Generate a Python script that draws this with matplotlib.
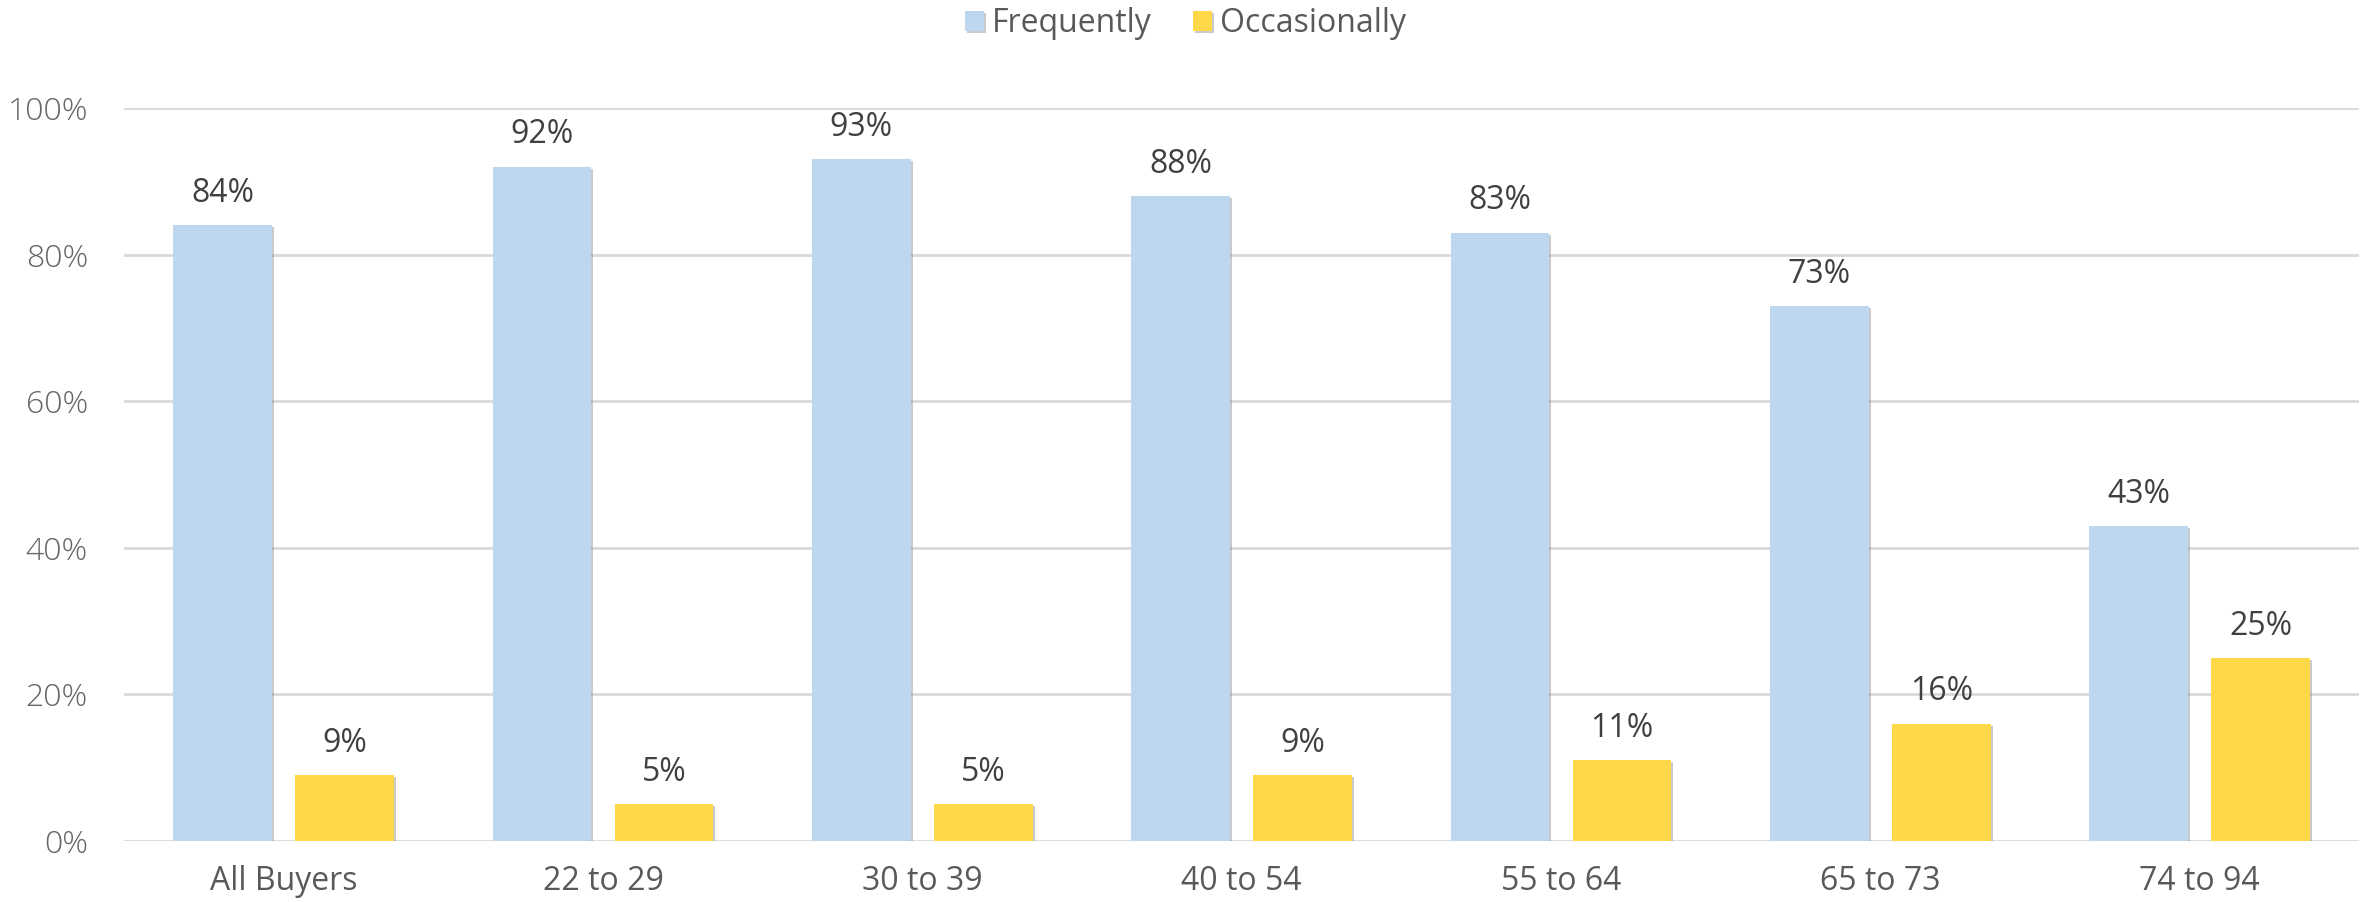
import numpy as np
import matplotlib.pyplot as plt
import matplotlib.patheffects as pe

categories = ['All Buyers', '22 to 29', '30 to 39', '40 to 54', '55 to 64', '65 to 73', '74 to 94']
frequently = [84, 92, 93, 88, 83, 73, 43]
occasionally = [9, 5, 5, 9, 11, 16, 25]
yticks = [0, 20, 40, 60, 80, 100]

plt.rcParams['font.family'] = ['Open Sans', 'DejaVu Sans']

fig = plt.figure(figsize=(23.71, 9.02), dpi=100)
ax = fig.add_axes([0.0523, 0.0676, 0.9427, 0.8126])

x = np.arange(len(categories))
w = 0.309
off = 0.191
shadow = [pe.SimplePatchShadow(offset=(1.5, -1.5), shadow_rgbFace='#8a8a8a', alpha=0.45), pe.Normal()]

b1 = ax.bar(x - off, frequently, w, color='#BDD7EE', label='Frequently', zorder=3, path_effects=shadow)
b2 = ax.bar(x + off, occasionally, w, color='#FFD84A', label='Occasionally', zorder=3, path_effects=shadow)

for bars, vals in ((b1, frequently), (b2, occasionally)):
    for r, v in zip(bars, vals):
        ax.annotate(f'{v}%', (r.get_x() + r.get_width() / 2, v), xytext=(0, 11),
                    textcoords='offset points', ha='center', va='bottom',
                    fontsize=23, color='#404040')

ax.set_xlim(-0.5, len(categories) - 0.5)
ax.set_ylim(0, 100)
ax.set_yticks(yticks)
ax.set_yticklabels([f'{t}%' for t in yticks], fontsize=23, color='#666666', fontweight='light')
ax.set_xticks(x)
ax.set_xticklabels(categories, fontsize=23, color='#595959')
ax.tick_params(length=0)
ax.tick_params(axis='y', pad=26)
ax.tick_params(axis='x', pad=17)
ax.grid(axis='y', color='#d9d9d9', linewidth=2, zorder=0)
for s in ax.spines.values():
    s.set_visible(False)

fig.legend(loc='upper center', bbox_to_anchor=(0.5, 1.024), ncol=2, frameon=False,
           fontsize=23, labelcolor='#595959', handlelength=0.6, handleheight=0.6,
           handletextpad=0.25, columnspacing=1.3)

fig.savefig('out.png', dpi=100, facecolor='white')
